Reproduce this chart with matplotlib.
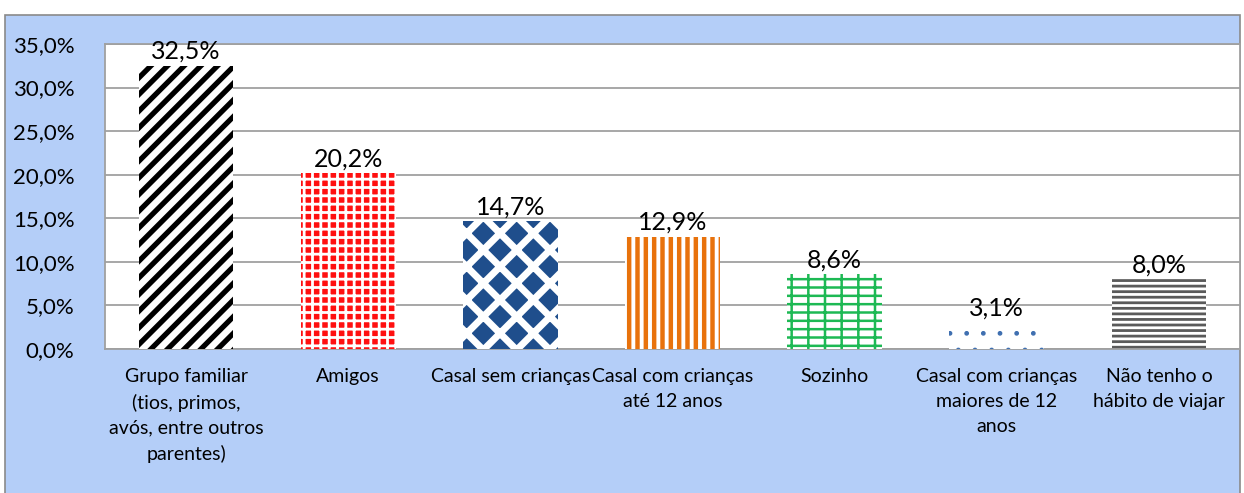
import matplotlib.pyplot as plt
from matplotlib.patches import Rectangle
from matplotlib.ticker import FuncFormatter

# Data
categories = [
    "Grupo familiar\n(tios, primos,\navós, entre outros\nparentes)",
    "Amigos",
    "Casal sem crianças",
    "Casal com crianças\naté 12 anos",
    "Sozinho",
    "Casal com crianças\nmaiores de 12\nanos",
    "Não tenho o\nhábito de viajar",
]
values = [32.5, 20.2, 14.7, 12.9, 8.6, 3.1, 8.0]
y_ticks = [0, 5, 10, 15, 20, 25, 30, 35]

# Pattern style per bar: (face colour, hatch colour, hatch, hatch linewidth)
styles = [
    ("white", "black", "//", 3.8),
    ("#FF1010", "white", "++", 2.0),
    ("#1F4E8C", "white", "x", 5.0),
    ("white", "#E8720C", "||", 3.2),
    ("white", "#1DB954", "+-", 1.8),
    ("white", "#3F6FB0", ".", 1.0),
    ("white", "#5A5A5A", "---", 2.0),
]

plt.rcParams['font.family'] = ['Lato', 'DejaVu Sans']

fig = plt.figure(figsize=(12.44, 4.93), dpi=100)
fig.patch.set_facecolor("white")

# Light blue chart box
box = Rectangle((5 / 1244, -0.02), 1235 / 1244, (493 - 15) / 493 + 0.02,
                transform=fig.transFigure, facecolor="#B4CEF8",
                edgecolor="#8A8A8A", linewidth=1.2, zorder=-5)
fig.patches.append(box)

ax = fig.add_axes([105 / 1244, 144 / 493, 1135 / 1244, 305 / 493])
ax.set_zorder(2)
ax.set_facecolor("white")

x = list(range(len(categories)))
for i, (v, st) in enumerate(zip(values, styles)):
    face, hcol, hatch, hlw = st
    plt.rcParams['hatch.linewidth'] = hlw
    ax.bar(x[i], v, width=0.585, color=face, edgecolor=hcol, hatch=hatch,
           linewidth=0, zorder=3)
    ax.annotate(f"{v:.1f}%".replace(".", ","), (x[i], v), xytext=(0, 2),
                textcoords="offset points", ha="center", va="bottom",
                fontsize=18, color="black", zorder=5)

ax.set_xlim(-0.5, len(categories) - 0.5)
ax.set_ylim(0, 35)
ax.set_yticks(y_ticks)
ax.yaxis.set_major_formatter(FuncFormatter(lambda v, p: f"{v:.1f}%".replace(".", ",")))
ax.tick_params(axis="y", labelsize=16, length=0, pad=22)
ax.set_xticks(x)
ax.set_xticklabels(categories, fontsize=14, linespacing=1.55, va="top")
ax.tick_params(axis="x", length=0, pad=14)

ax.grid(axis="y", color="#A0A0A0", linewidth=1.3, zorder=1)
ax.set_axisbelow(True)
for s in ax.spines.values():
    s.set_color("#A0A0A0")
    s.set_linewidth(1.3)

fig.savefig("out.png", dpi=100)
